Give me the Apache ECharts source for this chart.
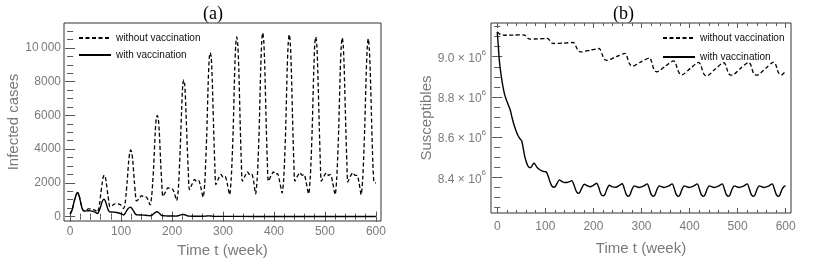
<!DOCTYPE html>
<html><head><meta charset="utf-8">
<script src="https://cdn.jsdelivr.net/npm/echarts@6/dist/echarts.min.js"></script>
<style>html,body{margin:0;padding:0;background:#fff}#c{width:820px;height:265px}</style>
</head><body><div id="c"></div>
<script>
// ---- Data ----
const infectedNoVac = [[0,150],[4,400],[8,900],[12,1300],[15,1420],[18,1200],[21,800],[24,480],[27,340],[31,380],[36,460],[41,450],[46,410],[50,360],[53,260],[56,450],[58,800],[60,1300],[63,2000],[65,2350],[67,2460],[69,2350],[71,2000],[74,1300],[76,900],[78,580],[83,660],[88,760],[92,750],[96,740],[100,680],[105,480],[108,800],[110,1400],[112,2100],[115,3300],[117,3800],[119,3950],[121,3800],[123,3300],[126,2100],[128,1400],[130,930],[135,1050],[140,1240],[144,1180],[148,1180],[152,1050],[157,700],[160,1200],[162,2000],[164,3000],[167,5000],[169,5800],[171,6000],[173,5800],[175,5000],[178,3000],[180,1900],[182,1200],[187,1450],[192,1720],[196,1650],[200,1650],[204,1450],[209,950],[212,1500],[214,2600],[216,4000],[219,6500],[221,7800],[223,8100],[225,7800],[227,6500],[230,4000],[232,2600],[234,1600],[239,1900],[244,2200],[248,2100],[252,2150],[256,1800],[261,1150],[264,1900],[266,3200],[268,4800],[271,8000],[273,9400],[275,9720],[277,9400],[279,8000],[282,4800],[284,3000],[286,1900],[291,2250],[296,2500],[300,2350],[304,2400],[308,2000],[313,1300],[316,2200],[318,3500],[320,5200],[323,8700],[325,10200],[327,10650],[329,10200],[331,8700],[334,5200],[336,3200],[338,2100],[343,2400],[348,2650],[352,2500],[356,2550],[360,2100],[364,1350],[367,2200],[369,3500],[371,5200],[374,8800],[376,10400],[378,10900],[380,10400],[382,8800],[385,5200],[387,3200],[389,2100],[394,2400],[399,2650],[403,2500],[407,2550],[411,2100],[416,1400],[419,2200],[421,3500],[423,5200],[426,8800],[428,10300],[430,10800],[432,10300],[434,8800],[437,5200],[439,3200],[441,2100],[446,2400],[451,2600],[455,2450],[459,2500],[463,2050],[468,1350],[471,2200],[473,3500],[475,5200],[478,8600],[480,10200],[482,10650],[484,10200],[486,8600],[489,5200],[491,3200],[493,2100],[498,2400],[503,2600],[507,2450],[511,2500],[515,2050],[520,1300],[523,2200],[525,3500],[527,5200],[530,8600],[532,10100],[534,10600],[536,10100],[538,8600],[541,5200],[543,3200],[545,2050],[550,2400],[555,2600],[559,2450],[563,2450],[567,2000],[571,1300],[574,2200],[576,3500],[578,5200],[581,8500],[583,10000],[585,10550],[587,10000],[589,8500],[592,5200],[594,3200],[596,2050],[598,2000],[600,2000]];
const infectedVac = [[0,150],[4,400],[8,900],[12,1300],[15,1430],[18,1200],[21,800],[24,450],[27,330],[31,340],[36,350],[41,340],[46,300],[50,250],[54,180],[57,350],[60,600],[63,900],[66,1030],[68,1000],[71,750],[74,450],[77,290],[82,270],[88,260],[94,230],[100,170],[105,100],[108,200],[111,350],[114,480],[118,560],[121,500],[124,350],[127,200],[130,110],[136,100],[142,90],[148,80],[154,60],[158,50],[162,120],[166,220],[170,290],[173,260],[176,170],[179,80],[182,50],[190,40],[200,35],[208,30],[212,50],[216,90],[221,130],[225,110],[229,60],[233,30],[245,25],[260,20],[266,30],[272,45],[278,30],[285,15],[300,15],[330,12],[400,10],[500,10],[600,10]];
// Susceptibles in millions
const suscNoVac = [[0,9.124],[3,9.117],[7,9.111],[12,9.108],[20,9.107],[35,9.108],[55,9.109],[59,9.104],[62,9.096],[65,9.090],[68,9.088],[85,9.089],[104,9.091],[108,9.085],[111,9.075],[114,9.068],[118,9.066],[138,9.068],[158,9.071],[161,9.065],[164,9.050],[167,9.035],[171,9.026],[174,9.024],[194,9.033],[212,9.041],[215,9.032],[218,9.013],[221,8.995],[224,8.985],[228,8.982],[248,9.001],[266,9.017],[269,9.007],[272,8.985],[275,8.965],[278,8.956],[281,8.953],[300,8.976],[317,8.994],[320,8.983],[323,8.958],[326,8.937],[329,8.928],[332,8.925],[350,8.954],[367,8.979],[371,8.968],[374,8.945],[377,8.925],[380,8.914],[384,8.910],[402,8.943],[419,8.972],[423,8.961],[426,8.938],[429,8.918],[432,8.908],[436,8.905],[454,8.940],[471,8.970],[475,8.960],[478,8.937],[481,8.917],[484,8.910],[488,8.908],[506,8.942],[523,8.972],[527,8.961],[530,8.938],[533,8.918],[536,8.911],[540,8.908],[558,8.942],[575,8.973],[579,8.962],[582,8.940],[585,8.920],[588,8.912],[591,8.909],[600,8.929]];
const suscVac = [[0,9.124],[2,9.060],[4,8.992],[6,8.945],[9,8.892],[12,8.850],[15,8.815],[19,8.785],[23,8.760],[27,8.735],[31,8.695],[35,8.660],[39,8.632],[43,8.608],[47,8.593],[51,8.580],[54,8.545],[57,8.505],[60,8.480],[63,8.460],[66,8.450],[69,8.448],[72,8.455],[76,8.470],[78,8.468],[82,8.452],[87,8.440],[93,8.432],[98,8.428],[102,8.427],[106,8.405],[110,8.375],[114,8.355],[118,8.350],[121,8.355],[125,8.372],[129,8.387],[134,8.380],[140,8.374],[145,8.374],[150,8.378],[155,8.383],[159,8.365],[163,8.338],[166,8.324],[169,8.320],[172,8.326],[176,8.347],[181,8.365],[187,8.358],[193,8.353],[200,8.360],[207,8.370],[211,8.350],[215,8.320],[218,8.309],[221,8.308],[224,8.315],[228,8.340],[233,8.360],[240,8.352],[247,8.350],[253,8.358],[260,8.368],[264,8.345],[268,8.316],[271,8.307],[273,8.305],[276,8.312],[280,8.338],[285,8.357],[295,8.349],[304,8.356],[312,8.367],[316,8.345],[320,8.316],[323,8.307],[325,8.305],[328,8.312],[332,8.338],[337,8.357],[347,8.349],[356,8.356],[364,8.367],[368,8.345],[372,8.316],[375,8.307],[377,8.305],[380,8.312],[384,8.338],[389,8.357],[399,8.349],[408,8.356],[416,8.367],[420,8.345],[424,8.316],[427,8.307],[429,8.305],[432,8.312],[436,8.338],[441,8.357],[451,8.349],[460,8.356],[468,8.367],[472,8.345],[476,8.316],[479,8.307],[481,8.305],[484,8.312],[488,8.338],[493,8.357],[503,8.349],[512,8.356],[520,8.367],[524,8.345],[528,8.316],[531,8.307],[533,8.305],[536,8.312],[540,8.338],[545,8.357],[555,8.349],[564,8.356],[572,8.367],[576,8.345],[580,8.316],[583,8.307],[585,8.305],[588,8.312],[592,8.338],[597,8.355],[600,8.357]];

const timeTicks = [0,100,200,300,400,500,600];
const timeMinorTicks = [20,40,60,80,120,140,160,180,220,240,260,280,320,340,360,380,420,440,460,480,520,540,560,580];
const infTicks = [0,2000,4000,6000,8000,10000];
const infMinorTicks = [500,1000,1500,2500,3000,3500,4500,5000,5500,6500,7000,7500,8500,9000,9500,10500,11000];
const susTicks = [8.4,8.6,8.8,9.0];
const susMinorTicks = [8.25,8.3,8.35,8.45,8.5,8.55,8.65,8.7,8.75,8.85,8.9,8.95,9.05,9.1,9.15];
const seriesNames = ['without vaccination','with vaccination'];
const panelTitles = ['(a)','(b)'];

// ---- Styling ----
const FONT = 'Liberation Sans, Arial, sans-serif';
const GRAY = '#7a7a7a';
const TICK = '#555';

function axisSet(kind, gridIndex, min, max, majors, minors, opts) {
  const isX = kind === 'x';
  const posA = isX ? 'bottom' : 'left', posB = isX ? 'top' : 'right';
  const base = {gridIndex, type:'value', min, max, splitLine:{show:false}, axisLine:{show:false}};
  const mk = (pos, vals, len, label) => Object.assign({}, base, {
    position: pos,
    axisTick:{show:true, inside:true, length:len, customValues: vals, lineStyle:{color:TICK, width:1}},
    axisLabel: label ? Object.assign({show:true, customValues: majors, color:GRAY, fontFamily:FONT, fontSize:12}, opts.label) : {show:false}
  }, label ? opts.axis : {});
  return [mk(posA, majors, 5, true), mk(posA, minors, 3, false), mk(posB, majors, 5, false), mk(posB, minors, 3, false)];
}

const xAxes = [
  ...axisSet('x', 0, -12, 610, timeTicks, timeMinorTicks, {label:{margin:5}, axis:{name:'Time t (week)', nameLocation:'middle', nameGap:19, nameTextStyle:{color:GRAY, fontFamily:FONT, fontSize:15}}}),
  ...axisSet('x', 1, -13, 611, timeTicks, timeMinorTicks, {label:{margin:8}, axis:{name:'Time t (week)', nameLocation:'middle', nameGap:28, nameTextStyle:{color:GRAY, fontFamily:FONT, fontSize:15}}})
];
const yAxes = [
  ...axisSet('y', 0, -260, 11480, infTicks, infMinorTicks, {label:{margin:3, formatter: v => v === 10000 ? '10\u2009000' : String(v)}, axis:{name:'Infected cases', nameLocation:'middle', nameGap:32, nameTextStyle:{color:GRAY, fontFamily:FONT, fontSize:15}}}),
  ...axisSet('y', 1, 8.222, 9.168, susTicks, susMinorTicks, {label:{margin:5, formatter: v => '{b|' + v.toFixed(1) + ' \u00d7 10}{s|6}', rich:{b:{color:GRAY, fontFamily:FONT, fontSize:12, lineHeight:16, verticalAlign:'bottom'}, s:{color:GRAY, fontFamily:FONT, fontSize:8, lineHeight:8, verticalAlign:'top'}}}, axis:{name:'Susceptibles', nameLocation:'middle', nameGap:56, nameTextStyle:{color:GRAY, fontFamily:FONT, fontSize:15}}})
];

const dashed = {color:'#000', width:1.3, type:[4,2.5]};
const solid = {color:'#000', width:1.4, type:'solid'};
function line(name, data, xi, yi, style) {
  return {name, type:'line', data, xAxisIndex:xi, yAxisIndex:yi, symbol:'none', smooth:0.25, lineStyle:style, itemStyle:{color:'#000'}, animation:false, silent:true};
}

const legendBase = {orient:'vertical', itemWidth:32, itemHeight:10, data:seriesNames,
  itemStyle:{color:'rgba(0,0,0,0)', borderWidth:0, opacity:0},
  textStyle:{color:'#111', fontFamily:FONT, fontSize:10}, selectedMode:false};

const option = {
  animation:false,
  title:[
    {text:panelTitles[0], left:198, top:0, textStyle:{fontFamily:'Liberation Serif, Times New Roman, serif', fontSize:18, fontWeight:'normal', color:'#000'}},
    {text:panelTitles[1], left:608, top:0, textStyle:{fontFamily:'Liberation Serif, Times New Roman, serif', fontSize:18, fontWeight:'normal', color:'#000'}}
  ],
  grid:[
    {left:64, top:23, width:317, height:198, show:true, borderColor:'#333', borderWidth:1, backgroundColor:'transparent'},
    {left:491, top:23, width:300, height:190, show:true, borderColor:'#333', borderWidth:1, backgroundColor:'transparent'}
  ],
  legend:[
    Object.assign({}, legendBase, {left:73, top:28, itemGap:7}),
    Object.assign({}, legendBase, {left:657, top:28, itemGap:9})
  ],
  xAxis: xAxes,
  yAxis: yAxes,
  series:[
    line(seriesNames[0], infectedNoVac, 0, 0, dashed),
    line(seriesNames[1], infectedVac, 0, 0, solid),
    line(seriesNames[0], suscNoVac, 4, 4, dashed),
    line(seriesNames[1], suscVac, 4, 4, solid)
  ]
};
const chart = echarts.init(document.getElementById('c'), null, {renderer:'canvas'});
chart.setOption(option);
</script>
</body></html>
